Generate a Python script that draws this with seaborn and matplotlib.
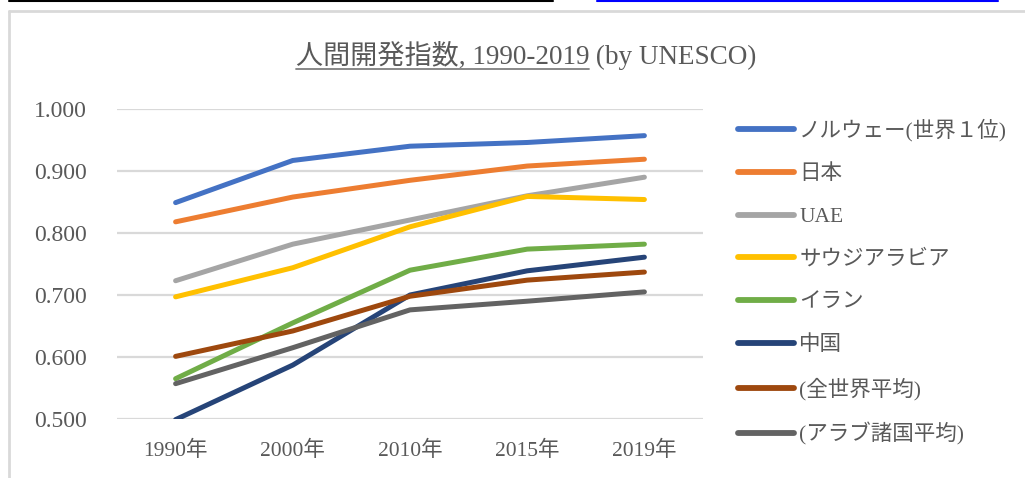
import matplotlib
matplotlib.use("Agg")
import matplotlib.pyplot as plt
import seaborn as sns
import pandas as pd
from matplotlib.lines import Line2D

# ---- data ----
years = ["1990年", "2000年", "2010年", "2015年", "2019年"]
series_names = ["ノルウェー(世界１位)", "日本", "UAE", "サウジアラビア", "イラン", "中国",
                "(全世界平均)", "(アラブ諸国平均)"]
norway = [0.849, 0.917, 0.940, 0.946, 0.957]
japan = [0.818, 0.858, 0.885, 0.908, 0.919]
uae = [0.723, 0.782, 0.821, 0.860, 0.890]
saudi = [0.697, 0.744, 0.810, 0.859, 0.854]
iran = [0.565, 0.655, 0.740, 0.774, 0.782]
china = [0.499, 0.587, 0.700, 0.739, 0.761]
world = [0.601, 0.642, 0.698, 0.724, 0.737]
arab = [0.557, 0.615, 0.676, 0.690, 0.705]
values = [norway, japan, uae, saudi, iran, china, world, arab]
colors = ["#4472C4", "#ED7D31", "#A5A5A5", "#FFC000", "#70AD47", "#264478",
          "#9E480E", "#636363"]
yticks = [0.5, 0.6, 0.7, 0.8, 0.9, 1.0]

rows = []
for name, vals in zip(series_names, values):
    for y, v in zip(years, vals):
        rows.append({"year": y, "series": name, "value": v})
df = pd.DataFrame(rows)

sns.set_theme(style="white")
plt.rcParams["font.family"] = ["Liberation Serif", "Noto Sans CJK JP", "DejaVu Sans"]
TXT = "#595959"
GRID = "#D9D9D9"

W, H = 1025, 478
fig = plt.figure(figsize=(W / 100, H / 100), dpi=100)
fig.patch.set_facecolor("white")
ax = fig.add_axes([117 / W, 1 - 419 / H, 586 / W, 310 / H])

sns.lineplot(data=df, x="year", y="value", hue="series", hue_order=series_names,
             palette=colors, sort=False, linewidth=3.6, ax=ax, legend=True)
for ln in ax.get_lines():
    ln.set_solid_capstyle("round")
    ln.set_solid_joinstyle("round")

ax.set_xlim(-0.5, 4.5)
ax.set_ylim(0.5, 1.0)
ax.set_yticks(yticks)
ax.set_yticklabels([f"{t:.3f}" for t in yticks])
ax.set_xlabel("")
ax.set_ylabel("")
for s in ax.spines.values():
    s.set_visible(False)
ax.yaxis.grid(True, color=GRID, linewidth=1.6, zorder=0)
ax.set_axisbelow(True)
ax.tick_params(axis="y", length=0, pad=22, labelsize=17, labelcolor=TXT)
ax.tick_params(axis="x", length=0, pad=16, labelsize=15.5, labelcolor=TXT)
for lab in ax.get_xticklabels() + ax.get_yticklabels():
    lab.set_clip_on(False)

handles, labels = ax.get_legend_handles_labels()
for h in handles:
    h.set_linewidth(4.2)
    h.set_solid_capstyle("round")
ax.legend(handles, labels, loc="upper left", bbox_to_anchor=(738 / W, 1 - 119 / H),
          bbox_transform=fig.transFigure, frameon=False, fontsize=15.5,
          handlelength=2.6, handletextpad=0.25, labelspacing=1.05, borderpad=0,
          borderaxespad=0, labelcolor=TXT)

# ---- title with underline ----
s1 = "人間開発指数, 1990-2019"
s2 = " (by UNESCO)"
t1 = fig.text(0, 0, s1, fontsize=19.5, color=TXT, va="baseline", ha="left")
t2 = fig.text(0, 0, s2, fontsize=19.5, color=TXT, va="baseline", ha="left")
r = fig.canvas.get_renderer()
w1 = t1.get_window_extent(r).width
w2 = t2.get_window_extent(r).width
start = 526 - (w1 + w2) / 2
base = H - 64
t1.set_position((start / W, base / H))
t2.set_position(((start + w1) / W, base / H))
fig.add_artist(Line2D([start / W, (start + w1) / W], [(base - 5) / H, (base - 5) / H],
                      transform=fig.transFigure, color="#7F7F7F", linewidth=1.3))

# ---- frame and top decorations ----
fig.add_artist(Line2D([9 / W, 553 / W], [1 - 0.8 / H, 1 - 0.8 / H],
                      transform=fig.transFigure, color="black", linewidth=1.5))
fig.add_artist(Line2D([597 / W, 998 / W], [1 - 0.8 / H, 1 - 0.8 / H],
                      transform=fig.transFigure, color="#0000FF", linewidth=1.5))
fig.add_artist(Line2D([9 / W, 1.0], [1 - 11 / H, 1 - 11 / H],
                      transform=fig.transFigure, color=GRID, linewidth=2))
fig.add_artist(Line2D([9 / W, 9 / W], [0, 1 - 11 / H],
                      transform=fig.transFigure, color=GRID, linewidth=2))

fig.savefig("out.png", dpi=100, facecolor="white")
